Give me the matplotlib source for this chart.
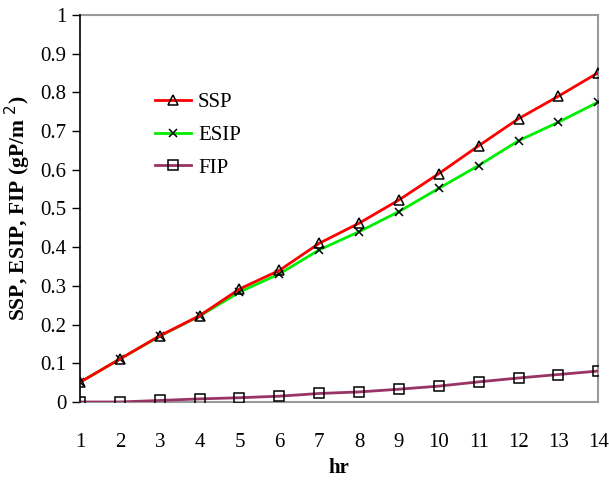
import matplotlib
matplotlib.use("Agg")
import matplotlib.pyplot as plt

hours = [1, 2, 3, 4, 5, 6, 7, 8, 9, 10, 11, 12, 13, 14]
ssp = [0.051, 0.111, 0.171, 0.223, 0.292, 0.340, 0.410, 0.462, 0.522, 0.590, 0.662, 0.732, 0.790, 0.851]
esip = [0.051, 0.111, 0.170, 0.222, 0.284, 0.331, 0.393, 0.440, 0.492, 0.552, 0.611, 0.675, 0.723, 0.775]
fip = [0.0, 0.0, 0.004, 0.008, 0.011, 0.015, 0.022, 0.026, 0.033, 0.041, 0.052, 0.062, 0.071, 0.080]

plt.rcParams['font.family'] = ['Liberation Serif', 'DejaVu Serif']

fig = plt.figure(figsize=(6.09, 4.82), dpi=100)
ax = fig.add_axes([0.1314, 0.166, 0.851, 0.803])

ax.plot(hours, ssp, color='#ff0000', lw=2, marker='^', ms=7.5, mfc='none', mec='black', mew=1.1, label='SSP', zorder=4)
ax.plot(hours, esip, color='#00ee00', lw=2, marker='x', ms=5.5, mec='black', mew=1.1, label='ESIP', zorder=3)
ax.plot(hours, fip, color='#993366', lw=2, marker='s', ms=7.5, mfc='none', mec='black', mew=1.1, label='FIP', zorder=3)

ax.set_xlim(1, 14)
ax.set_ylim(0, 1)
ax.set_xticks(hours)
ax.set_yticks([0, 0.1, 0.2, 0.3, 0.4, 0.5, 0.6, 0.7, 0.8, 0.9, 1])
ax.set_yticklabels(['0', '0.1', '0.2', '0.3', '0.4', '0.5', '0.6', '0.7', '0.8', '0.9', '1'])
ax.tick_params(axis='y', direction='out', length=6, width=1, labelsize=15, pad=4)
ax.tick_params(axis='x', length=0, labelsize=15, pad=22)

for s in ['top', 'right', 'bottom']:
    ax.spines[s].set_color('#999999')
    ax.spines[s].set_linewidth(1.5)
ax.spines['left'].set_color('black')
ax.spines['left'].set_linewidth(1.2)
ax.spines['left'].set_zorder(5)

ax.set_xlabel('hr', fontsize=15, fontweight='bold', labelpad=5)
ax.set_ylabel('SSP, ESIP, FIP (gP/m $^{2}$)', fontsize=15.5, fontweight='bold', labelpad=5)

ax.legend(loc='upper left', bbox_to_anchor=(0.145, 0.799), frameon=False, fontsize=15,
          borderaxespad=0, borderpad=0,
          handlelength=1.7, labelspacing=0.63, handletextpad=0.35)

fig.savefig('out.png', dpi=100)
